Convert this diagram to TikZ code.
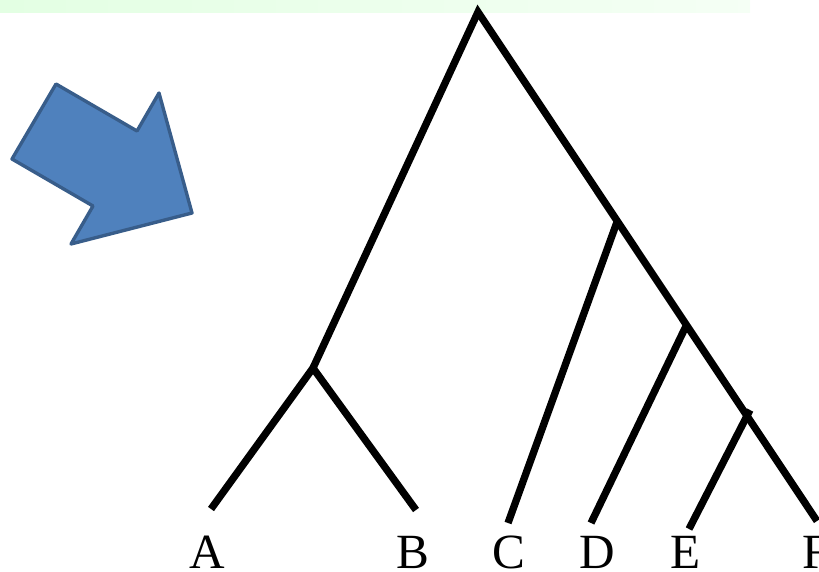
\documentclass[tikz,border=0pt]{standalone}
\usepackage{fontspec}
\setmainfont{Liberation Serif}
\begin{document}
\tikzset{
  branch/.style={line width=5.2pt, line cap=butt},
  leaf/.style={font=\fontsize{35}{35}\selectfont, anchor=base, inner sep=0pt},
}
\begin{tikzpicture}[x=0.025cm, y=-0.025cm]
\useasboundingbox (0,0) rectangle (819,571);
\fill[left color=green!11!white, right color=green!4!white] (0,0) rectangle (750,13);

% big arrow
\draw[line width=2.4pt, draw={rgb,255:red,56;green,93;blue,138}, fill={rgb,255:red,79;green,129;blue,189}, line join=round]
  (56,84) -- (137,131) -- (159,93) -- (192,213) -- (71,244) -- (93,206) -- (12,159) -- cycle;

% tree
\coordinate (root) at (478,12);
\coordinate (ab) at (313,368);
\coordinate (cdef) at (617,222);
\coordinate (def) at (687,324);
\coordinate (ef) at (750,410);
\coordinate (a) at (211,509);
\coordinate (b) at (416,510);
\coordinate (c) at (508,523);
\coordinate (d) at (591,523);
\coordinate (e) at (689,529);
\coordinate (f) at (817,521);

\draw[branch] (a) -- (ab) -- (b);
\draw[branch] (ab) -- (root) -- (f);
\draw[branch] (cdef) -- (c);
\draw[branch] (def) -- (d);
\draw[branch] (ef) -- (e);

\node[leaf] (la) at (207,568.5) {A};
\node[leaf] (lb) at (413,568.5) {B};
\node[leaf] (lc) at (509,568.5) {C};
\node[leaf] (ld) at (597,568.5) {D};
\node[leaf] (le) at (686,568.5) {E};
\node[leaf] (lf) at (816,568.5) {F};
\end{tikzpicture}
\end{document}
